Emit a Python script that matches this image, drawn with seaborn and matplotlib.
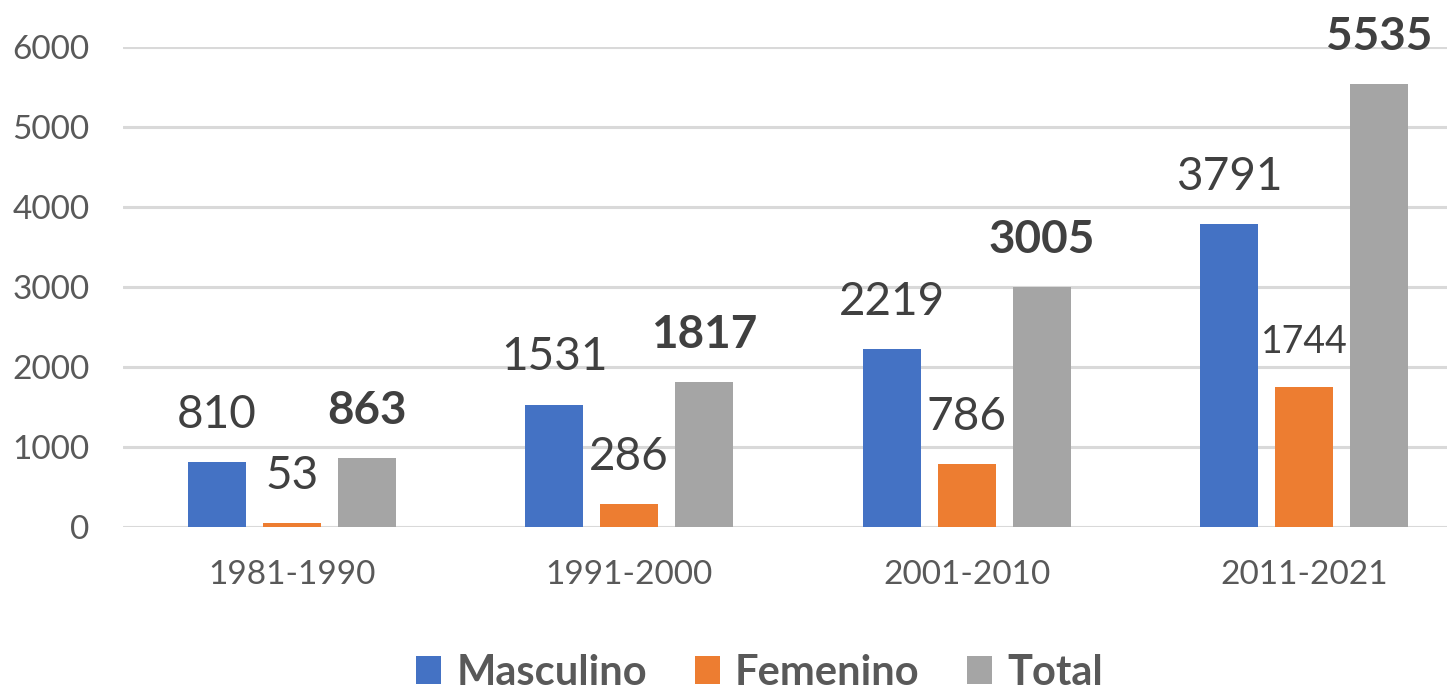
import numpy as np
import pandas as pd
import matplotlib
matplotlib.use("Agg")
import matplotlib.pyplot as plt
import seaborn as sns
from matplotlib.patches import Patch

# datos
periods = ["1981-1990", "1991-2000", "2001-2010", "2011-2021"]
masculino = [810, 1531, 2219, 3791]
femenino = [53, 286, 786, 1744]
total = [863, 1817, 3005, 5535]
series_names = ["Masculino", "Femenino", "Total"]
y_ticks = [0, 1000, 2000, 3000, 4000, 5000, 6000]

colors = {"Masculino": "#4472C4", "Femenino": "#ED7D31", "Total": "#A5A5A5"}
text_color = "#595959"

df = pd.DataFrame({
    "Periodo": periods * 3,
    "Serie": ["Masculino"] * 4 + ["Femenino"] * 4 + ["Total"] * 4,
    "Valor": masculino + femenino + total,
})

sns.set_theme(style="white")
plt.rcParams["font.family"] = ["Lato", "DejaVu Sans"]

fig = plt.figure(figsize=(14.47, 6.89), dpi=100)
ax = fig.add_axes([123 / 1447, 162 / 689, 1324 / 1447, 480 / 689])

sns.barplot(data=df, x="Periodo", y="Valor", hue="Serie", order=periods,
            hue_order=series_names, palette=colors, saturation=1,
            width=0.667, gap=0.227, linewidth=0, errorbar=None,
            legend=False, ax=ax, zorder=3)

ax.set_xlim(-0.5, 3.424)
ax.set_ylim(0, 6000)
ax.set_yticks(y_ticks)
ax.set_yticklabels([str(t) for t in y_ticks])
ax.yaxis.grid(True, color="#D9D9D9", linewidth=2.2, zorder=0)
ax.xaxis.grid(False)
ax.set_axisbelow(True)
for s in ax.spines.values():
    s.set_visible(False)
ax.tick_params(axis="y", length=0, pad=24, labelsize=24, labelcolor=text_color)
ax.tick_params(axis="x", length=0, pad=24, labelsize=24, labelcolor=text_color)
ax.set_xlabel("")
ax.set_ylabel("")

# etiquetas de valores
for name, cont in zip(series_names, ax.containers):
    for i, bar in enumerate(cont):
        h = bar.get_height()
        size = 33
        weight = "normal"
        if name == "Total":
            weight = "bold"
        if name == "Femenino" and i == 3:
            size = 27
        ax.annotate(f"{int(round(h))}", xy=(bar.get_x() + bar.get_width() / 2, h),
                    xytext=(0, 24.5), textcoords="offset points",
                    ha="center", va="baseline", fontsize=size, fontweight=weight,
                    color="#404040", annotation_clip=False)

handles = [Patch(facecolor=colors[n], edgecolor="none", label=n) for n in series_names]
leg = fig.legend(handles=handles, loc="lower center", bbox_to_anchor=(0.525, -0.034),
                 ncol=3, frameon=False, borderpad=0, handlelength=0.6, handleheight=0.65,
                 handletextpad=0.36, columnspacing=1.15,
                 prop={"size": 30, "weight": "bold"})
for t in leg.get_texts():
    t.set_color(text_color)

fig.savefig("out.png", dpi=100)
